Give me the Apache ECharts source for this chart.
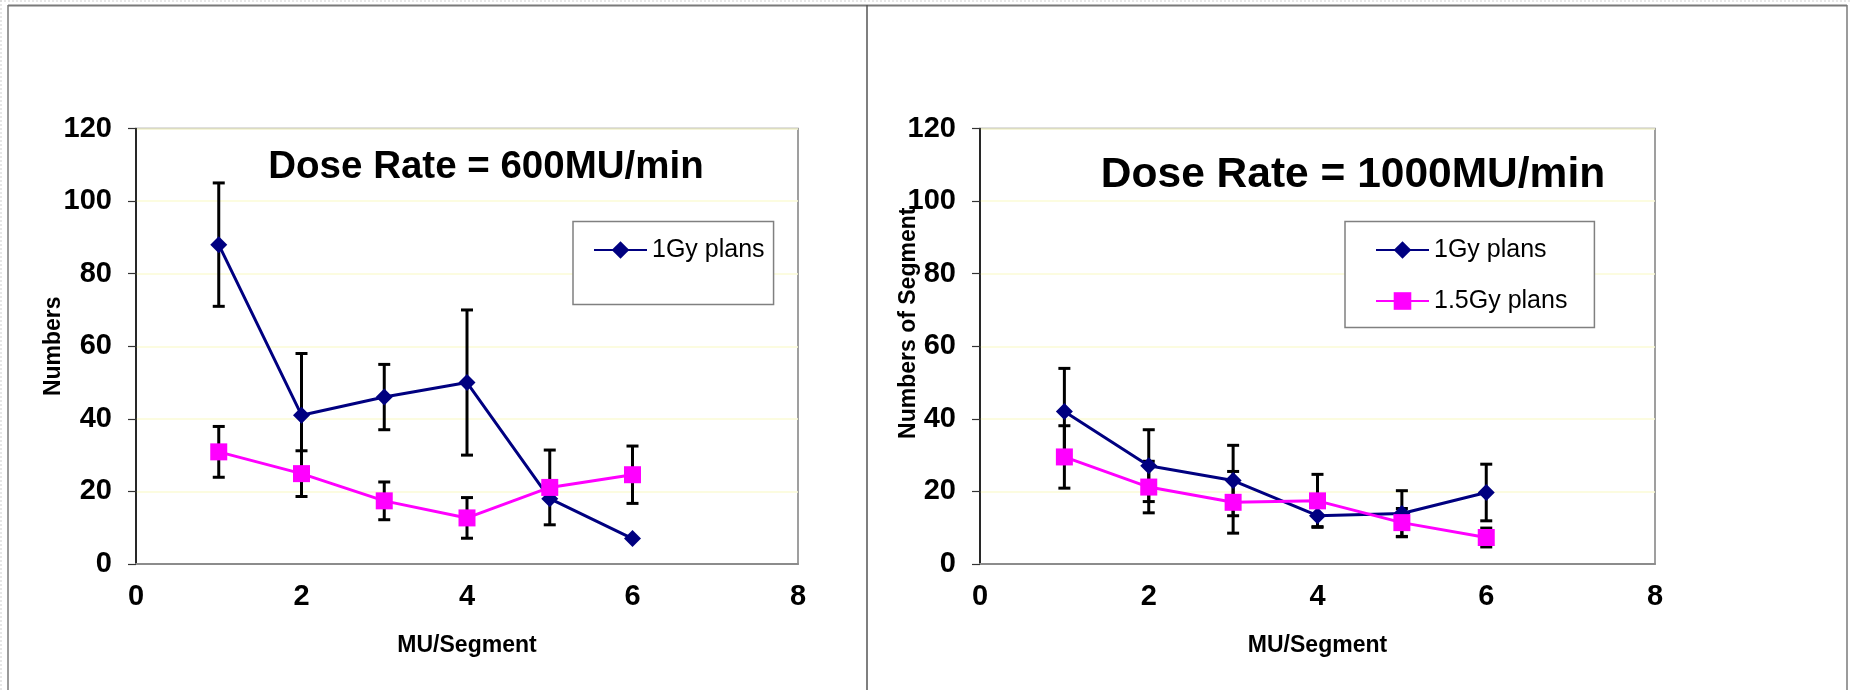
<!DOCTYPE html>
<html>
<head>
<meta charset="utf-8">
<title>Segments vs MU/Segment</title>
<script src="https://cdn.jsdelivr.net/npm/echarts@6/dist/echarts.min.js"></script>
<style>
  html, body { margin: 0; padding: 0; background: #ffffff; }
  #chart { width: 1850px; height: 690px; }
</style>
</head>
<body>
<div id="chart"></div>
<script>
// MU per segment (x positions shared by every series)
const muPerSegment = [1, 2, 3, 4, 5, 6];

// Dose rate 600 MU/min
const rate600_1Gy      = [88, 41, 46, 50, 18, 7];
const rate600_1Gy_sd   = [17, 17, 9, 20, 0, 0];
const rate600_15Gy     = [30.9, 24.9, 17.4, 12.7, 21.1, 24.6];
const rate600_15Gy_sd  = [7, 6.3, 5.2, 5.6, 10.3, 7.9];

// Dose rate 1000 MU/min
const rate1000_1Gy     = [42, 27.1, 23, 13.3, 13.9, 19.7];
const rate1000_1Gy_sd  = [11.9, 9.9, 9.7, 3, 6.3, 7.8];
const rate1000_15Gy    = [29.5, 21.2, 17, 17.4, 11.4, 7.3];
const rate1000_15Gy_sd = [8.6, 7.1, 8.5, 7.3, 3.9, 2.6];

const xTicks = [0, 2, 4, 6, 8];
const yTicks = [0, 20, 40, 60, 80, 100, 120];

const titles = ['Dose Rate = 600MU/min', 'Dose Rate = 1000MU/min'];
const yNames = ['Numbers', 'Numbers of Segment'];
const xName = 'MU/Segment';
const seriesNames = ['1Gy plans', '1.5Gy plans'];

const FONT = "'Liberation Sans', Arial, Helvetica, sans-serif";
const NAVY = '#000080';
const MAGENTA = '#ff00ff';

function points(ys) {
  return muPerSegment.map((x, i) => [x, ys[i]]);
}
function errorRanges(ys, sd) {
  const out = [];
  muPerSegment.forEach((x, i) => {
    if (sd[i] > 0) out.push([x, ys[i] - sd[i], ys[i] + sd[i]]);
  });
  return out;
}

// vertical +/- SD bar with caps, placed through the axis scales
function renderErrorBar(params, api) {
  const x = api.value(0);
  const top = api.coord([x, api.value(2)]);
  const bot = api.coord([x, api.value(1)]);
  const half = 6;
  const style = { stroke: '#000000', lineWidth: 3 };
  return {
    type: 'group',
    children: [
      { type: 'line', shape: { x1: top[0], y1: top[1], x2: bot[0], y2: bot[1] }, style },
      { type: 'line', shape: { x1: top[0] - half, y1: top[1], x2: top[0] + half, y2: top[1] }, style },
      { type: 'line', shape: { x1: bot[0] - half, y1: bot[1], x2: bot[0] + half, y2: bot[1] }, style }
    ]
  };
}

const grids = [
  { left: 136, top: 128.5, width: 662, height: 435.5 },
  { left: 980, top: 128.5, width: 675, height: 435.5 }
];

function xAxisFor(idx) {
  return {
    type: 'value', gridIndex: idx, min: xTicks[0], max: xTicks[xTicks.length - 1], interval: 2,
    name: xName, nameLocation: 'middle', nameGap: 70,
    nameTextStyle: { fontFamily: FONT, fontWeight: 'bold', fontSize: 23, color: '#000' },
    axisLine: { show: true, lineStyle: { color: '#8c8c8c', width: 2 } },
    axisTick: { show: false },
    splitLine: { show: false },
    axisLabel: { margin: 18, fontFamily: FONT, fontWeight: 'bold', fontSize: 29, color: '#000' }
  };
}
function yAxisFor(idx, gap, namePad) {
  return {
    type: 'value', gridIndex: idx, min: yTicks[0], max: yTicks[yTicks.length - 1], interval: 20,
    name: yNames[idx], nameLocation: 'middle', nameGap: gap, nameMoveOverlap: false,
    nameTextStyle: { fontFamily: FONT, fontWeight: 'bold', fontSize: 23, color: '#000', padding: namePad },
    axisLine: { show: true, lineStyle: { color: '#000', width: 1.5 } },
    axisTick: { show: true, length: 8, lineStyle: { color: '#333', width: 1.2 } },
    splitLine: { show: true, lineStyle: { color: '#fbfbd6', width: 1.5 } },
    axisLabel: { margin: 24, fontFamily: FONT, fontWeight: 'bold', fontSize: 29, color: '#000' }
  };
}

function lineSeries(name, idx, ys, color, symbol, size, z) {
  return {
    type: 'line', name, xAxisIndex: idx, yAxisIndex: idx, data: points(ys),
    symbol, symbolSize: size, z,
    lineStyle: { color, width: 3 },
    itemStyle: { color, borderWidth: 0 }
  };
}
function errorSeries(idx, ys, sd) {
  return {
    type: 'custom', xAxisIndex: idx, yAxisIndex: idx, z: 1,
    data: errorRanges(ys, sd), renderItem: renderErrorBar,
    encode: { x: 0, y: [1, 2] }, silent: true
  };
}

const legendText = { fontFamily: FONT, fontSize: 25, color: '#000', lineHeight: 25 };

const option = {
  backgroundColor: '#ffffff',
  animation: false,
  title: [
    { text: titles[0], left: 481, top: 143, textAlign: 'center',
      textStyle: { fontFamily: FONT, fontWeight: 'bold', fontSize: 38.5, color: '#000' } },
    { text: titles[1], left: 1348, top: 149, textAlign: 'center',
      textStyle: { fontFamily: FONT, fontWeight: 'bold', fontSize: 42.5, color: '#000' } }
  ],
  legend: [
    { data: [seriesNames[0]], orient: 'vertical', left: 573, top: 221.5,
      padding: [16, 9, 42, 20], itemWidth: 53, itemHeight: 22,
      borderColor: '#808080', borderWidth: 1.5, backgroundColor: '#fff',
      textStyle: legendText },
    { data: seriesNames, orient: 'vertical', left: 1345, top: 221.5,
      padding: [16, 27, 14, 30], itemGap: 26, itemWidth: 53, itemHeight: 22,
      borderColor: '#808080', borderWidth: 1.5, backgroundColor: '#fff',
      textStyle: legendText }
  ],
  grid: grids.map(g => Object.assign({ show: true, borderColor: '#808080', borderWidth: 1.5, backgroundColor: 'transparent' }, g)),
  xAxis: [xAxisFor(0), xAxisFor(1)],
  yAxis: [yAxisFor(0, 71, 0), yAxisFor(1, 60, [0, 0, 0, 46])],
  series: [
    errorSeries(0, rate600_1Gy, rate600_1Gy_sd),
    errorSeries(0, rate600_15Gy, rate600_15Gy_sd),
    lineSeries(seriesNames[0], 0, rate600_1Gy, NAVY, 'diamond', 17, 2),
    lineSeries(seriesNames[1], 0, rate600_15Gy, MAGENTA, 'rect', 17, 3),
    errorSeries(1, rate1000_1Gy, rate1000_1Gy_sd),
    errorSeries(1, rate1000_15Gy, rate1000_15Gy_sd),
    lineSeries(seriesNames[0], 1, rate1000_1Gy, NAVY, 'diamond', 17, 2),
    lineSeries(seriesNames[1], 1, rate1000_15Gy, MAGENTA, 'rect', 17, 3)
  ],
  graphic: [
    // outer frame and panel divider
    { type: 'line', silent: true, shape: { x1: 0, y1: 1, x2: 1850, y2: 1 }, style: { stroke: '#cfcfcf', lineWidth: 1, lineDash: [2, 2] } },
    { type: 'line', silent: true, shape: { x1: 1, y1: 0, x2: 1, y2: 690 }, style: { stroke: '#cfcfcf', lineWidth: 1, lineDash: [2, 2] } },
    { type: 'line', silent: true, shape: { x1: 8, y1: 5.5, x2: 1847, y2: 5.5 }, style: { stroke: '#7a7a7a', lineWidth: 2 } },
    { type: 'line', silent: true, shape: { x1: 8, y1: 5, x2: 8, y2: 690 }, style: { stroke: '#7a7a7a', lineWidth: 1.5 } },
    { type: 'line', silent: true, shape: { x1: 867, y1: 5, x2: 867, y2: 690 }, style: { stroke: '#555555', lineWidth: 1.5 } },
    { type: 'line', silent: true, shape: { x1: 1847, y1: 5, x2: 1847, y2: 690 }, style: { stroke: '#7a7a7a', lineWidth: 1.5 } }
  ]
};

const chart = echarts.init(document.getElementById('chart'), null, { renderer: 'canvas' });
chart.setOption(option);
</script>
</body>
</html>
